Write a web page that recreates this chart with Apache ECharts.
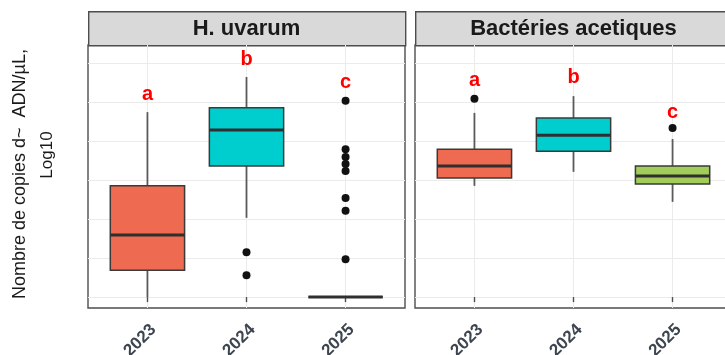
<!DOCTYPE html>
<html>
<head>
<meta charset="utf-8">
<script src="https://cdn.jsdelivr.net/npm/echarts@6/dist/echarts.min.js"></script>
<style>
  html, body { margin: 0; padding: 0; background: #ffffff; }
  #chart { width: 725px; height: 355px; }
</style>
</head>
<body>
<div id="chart"></div>
<script>
// Sampling years (x categories, plotted at positions 1, 2, 3)
const years = ['2023', '2024', '2025'];
const yearColors = ['#EE6A50', '#00CDCD', '#A2CD5A'];
const facetTitles = ['H. uvarum', 'Bactéries acetiques'];

// Box statistics per year: [min whisker, Q1, median, Q3, max whisker] (log10 copies/µL)
const uvarumBoxes = [
  [0.00, 0.69, 1.59, 2.85, 4.74],
  [2.03, 3.36, 4.28, 4.85, 5.64],
  [0.00, 0.00, 0.00, 0.00, 0.00]
];
const acetiquesBoxes = [
  [2.85, 3.05, 3.36, 3.79, 4.72],
  [3.21, 3.74, 4.15, 4.59, 5.15],
  [2.44, 2.90, 3.10, 3.36, 4.05]
];

// Outlying samples: [year position, value]
const uvarumOutliers = [
  [2, 1.15], [2, 0.56],
  [3, 5.03], [3, 3.79], [3, 3.59], [3, 3.41], [3, 3.23], [3, 2.54], [3, 2.21], [3, 0.97]
];
const acetiquesOutliers = [
  [1, 5.08], [3, 4.33]
];

// Significance letters and the height where each is written
const uvarumLetters = ['a', 'b', 'c'];
const uvarumLetterY = [5.18, 6.08, 5.49];
const acetiquesLetters = ['a', 'b', 'c'];
const acetiquesLetterY = [5.56, 5.62, 4.72];

// Shared y scale and grid values
const yMin = -0.28, yMax = 6.46;
const yGridValues = [0, 1, 2, 3, 4, 5, 6];
const xPositions = [1, 2, 3];

const panels = [
  { left: 88, boxes: uvarumBoxes, outliers: uvarumOutliers, letters: uvarumLetters, letterY: uvarumLetterY },
  { left: 415, boxes: acetiquesBoxes, outliers: acetiquesOutliers, letters: acetiquesLetters, letterY: acetiquesLetterY }
];
const panelTop = 45, panelWidth = 317, panelHeight = 263;
const stripTop = 11, stripHeight = 34;

function renderBox(params, api) {
  const x = api.value(0);
  const lo = api.value(1), q1 = api.value(2), med = api.value(3), q3 = api.value(4), hi = api.value(5);
  const w = api.size([0.75, 0])[0];
  const pLo = api.coord([x, lo]);
  const pQ1 = api.coord([x, q1]);
  const pMed = api.coord([x, med]);
  const pQ3 = api.coord([x, q3]);
  const pHi = api.coord([x, hi]);
  const cx = pMed[0];
  const fill = yearColors[params.dataIndex];
  const whisker = { stroke: '#5a5a5a', lineWidth: 1.8 };
  return {
    type: 'group',
    children: [
      { type: 'line', shape: { x1: cx, y1: pHi[1], x2: cx, y2: pQ3[1] }, style: whisker },
      { type: 'line', shape: { x1: cx, y1: pQ1[1], x2: cx, y2: pLo[1] }, style: whisker },
      { type: 'rect', shape: { x: cx - w / 2, y: pQ3[1], width: w, height: pQ1[1] - pQ3[1] },
        style: { fill: fill, stroke: '#3a3a3a', lineWidth: 1.5 } },
      { type: 'line', shape: { x1: cx - w / 2, y1: pMed[1], x2: cx + w / 2, y2: pMed[1] },
        style: { stroke: '#2f2f2f', lineWidth: 3 } }
    ]
  };
}

const grid = [], xAxis = [], yAxis = [], series = [], graphic = [];

panels.forEach(function (p, i) {
  grid.push({
    left: p.left, top: panelTop, width: panelWidth, height: panelHeight,
    containLabel: false, outerBoundsMode: 'none',
    show: true, backgroundColor: '#ffffff', borderColor: '#4d4d4d', borderWidth: 1.4
  });
  xAxis.push({
    gridIndex: i, type: 'value', min: 0.4, max: 3.6,
    axisLine: { show: false },
    axisTick: { show: true, customValues: xPositions, length: 5, lineStyle: { color: '#4d4d4d', width: 1.4 } },
    axisLabel: {
      customValues: xPositions, rotate: 45, margin: 13, verticalAlign: 'top',
      formatter: function (v) { return years[Math.round(v) - 1]; },
      fontFamily: 'Liberation Sans', fontWeight: 'bold', fontSize: 17, color: '#3d4550'
    },
    splitLine: { show: true, lineStyle: { color: '#ebebeb', width: 1 } }
  });
  yAxis.push({
    gridIndex: i, type: 'value', min: yMin, max: yMax,
    axisLine: { show: false },
    axisTick: { show: false, customValues: yGridValues },
    axisLabel: { show: false, customValues: yGridValues },
    splitLine: { show: true, lineStyle: { color: '#ebebeb', width: 1 } }
  });

  series.push({
    type: 'custom', xAxisIndex: i, yAxisIndex: i,
    renderItem: renderBox,
    data: p.boxes.map(function (b, k) { return [xPositions[k]].concat(b); }),
    z: 2
  });
  series.push({
    type: 'scatter', xAxisIndex: i, yAxisIndex: i,
    data: p.outliers, symbolSize: 8,
    itemStyle: { color: '#111111', opacity: 1 }, z: 3
  });
  series.push({
    type: 'scatter', xAxisIndex: i, yAxisIndex: i,
    data: p.letters.map(function (t, k) { return { value: [xPositions[k], p.letterY[k]], name: t }; }),
    symbolSize: 0,
    itemStyle: { opacity: 1 },
    label: {
      show: true, position: 'inside', formatter: '{b}',
      fontFamily: 'Liberation Sans', fontWeight: 'bold', fontSize: 20, color: '#ff0000'
    },
    z: 4
  });

  // facet strip
  graphic.push({
    type: 'rect', left: p.left, top: stripTop,
    shape: { width: panelWidth, height: stripHeight },
    style: { fill: '#d9d9d9', stroke: '#4d4d4d', lineWidth: 1.4 }
  });
  graphic.push({
    type: 'text', x: p.left + panelWidth / 2, y: stripTop + stripHeight / 2 + 1,
    style: {
      text: facetTitles[i], align: 'center', verticalAlign: 'middle',
      font: 'bold 22px "Liberation Sans"', fill: '#1a1a1a'
    }
  });
});

// y axis title, two lines
graphic.push({
  type: 'text', x: 20, y: 174, rotation: Math.PI / 2,
  style: { text: 'Nombre de copies d~  ADN/µL,', align: 'center', verticalAlign: 'middle',
           font: '18px "Liberation Sans"', fill: '#1a1a1a' }
});
graphic.push({
  type: 'text', x: 47, y: 155, rotation: Math.PI / 2,
  style: { text: 'Log10', align: 'center', verticalAlign: 'middle',
           font: '17px "Liberation Sans"', fill: '#1a1a1a' }
});

const chart = echarts.init(document.getElementById('chart'), null, { renderer: 'canvas' });
chart.setOption({
  animation: false,
  backgroundColor: '#ffffff',
  grid: grid, xAxis: xAxis, yAxis: yAxis, series: series, graphic: graphic
});
</script>
</body>
</html>
